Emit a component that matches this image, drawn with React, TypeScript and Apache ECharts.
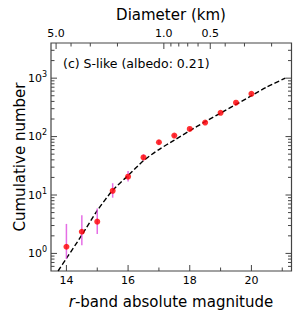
import React, { useEffect, useRef } from 'react';
import * as echarts from 'echarts';

// Observed cumulative counts (S-like, albedo 0.21)
const magnitudes = [14, 14.5, 15, 15.5, 16, 16.5, 17, 17.5, 18, 18.5, 19, 19.5, 20];
const cumulative = [1.3, 2.35, 3.5, 11.8, 20.6, 44, 80, 104, 135, 174, 255, 380, 540];
const errLow = [0.8, 1.38, 2.15, 9.0, 17, 39, 74, 97, 127, 165, 244, 366, 522];
const errHigh = [3.2, 4.5, 5.9, 15.9, 25.8, 50, 87, 111, 143, 183, 266, 394, 558];

// Model curve (dashed)
const modelMag = [13.73, 14, 14.5, 15, 15.5, 16, 16.5, 17, 17.5, 18, 18.5, 19, 19.5, 20, 20.5, 21.1];
const modelN = [0.5, 0.82, 2.06, 5.4, 12, 21.5, 38.7, 60, 87, 126, 180, 252, 355, 500, 705, 1000];

// Axes
const xMin = 13.5;
const xMax = 21.3;
const yMin = 0.5;
const yMax = 4000;
const xMajorTicks = [14, 16, 18, 20];
const xMajorLabels = ['14', '16', '18', '20'];
const xMinorTicks = [15, 17, 19, 21];
const yMajorTicks = [1, 10, 100, 1000];
const yMajorExponents = ['0', '1', '2', '3'];
const yMinorTicks = [0.6, 0.7, 0.8, 0.9, 2, 3, 4, 5, 6, 7, 8, 9, 20, 30, 40, 50, 60, 70, 80, 90, 200, 300, 400, 500, 600, 700, 800, 900, 2000, 3000];

// Top axis: diameter (km); magnitude of a 1 km body at this albedo
const magAtOneKm = 17.16;
const diamMajorTicks = [5.0, 1.0, 0.5];
const diamMajorLabels = ['5.0', '1.0', '0.5'];
const diamMinorTicks = [4, 3, 2, 0.9, 0.8, 0.7, 0.6, 0.4, 0.3, 0.2];
const diamToMag = (d: number) => magAtOneKm - 5 * Math.log10(d);

const FONT = 'DejaVu Sans';
const AXIS_COLOR = '#444';
const MAJOR_LEN = 6;
const MINOR_LEN = 3.5;

export default function App() {
  const ref = useRef<HTMLDivElement>(null);

  useEffect(() => {
    document.body.style.margin = '0';
    if (!ref.current) return;
    const chart = echarts.init(ref.current, undefined, { renderer: 'svg' });

    // tick data: [x, y, side, len]; side 0 bottom, 1 top, 2 left, 3 right
    const tickData: number[][] = [];
    xMajorTicks.forEach((v) => tickData.push([v, yMin, 0, MAJOR_LEN]));
    xMinorTicks.forEach((v) => tickData.push([v, yMin, 0, MINOR_LEN]));
    yMajorTicks.forEach((v) => {
      tickData.push([xMin, v, 2, MAJOR_LEN]);
      tickData.push([xMax, v, 3, MAJOR_LEN]);
    });
    yMinorTicks.forEach((v) => {
      tickData.push([xMin, v, 2, MINOR_LEN]);
      tickData.push([xMax, v, 3, MINOR_LEN]);
    });
    diamMajorTicks.forEach((d) => tickData.push([diamToMag(d), yMax, 1, MAJOR_LEN]));
    diamMinorTicks.forEach((d) => tickData.push([diamToMag(d), yMax, 1, MINOR_LEN]));

    const option: any = {
      animation: false,
      grid: { left: 51, top: 43, width: 240.5, height: 228, show: true, borderColor: AXIS_COLOR, borderWidth: 1.2, backgroundColor: 'transparent' },
      xAxis: {
        type: 'value', min: xMin, max: xMax,
        axisLine: { show: false }, axisTick: { show: false }, axisLabel: { show: false }, splitLine: { show: false },
      },
      yAxis: {
        type: 'log', logBase: 10, min: yMin, max: yMax,
        axisLine: { show: false }, axisTick: { show: false }, axisLabel: { show: false }, splitLine: { show: false }, minorTick: { show: false },
      },
      series: [
        {
          type: 'custom', name: 'ticks', data: tickData, silent: true, clip: false, z: 5,
          renderItem: (params: any, api: any) => {
            const p = api.coord([api.value(0), api.value(1)]);
            const side = api.value(2);
            const len = api.value(3);
            const dx = side === 2 ? len : side === 3 ? -len : 0;
            const dy = side === 0 ? -len : side === 1 ? len : 0;
            return { type: 'line', shape: { x1: p[0], y1: p[1], x2: p[0] + dx, y2: p[1] + dy }, style: { stroke: AXIS_COLOR, lineWidth: 1 } };
          },
        },
        {
          type: 'custom', name: 'xLabels', data: xMajorTicks.map((v) => [v, yMin]), silent: true, clip: false,
          renderItem: (params: any, api: any) => {
            const p = api.coord([api.value(0), api.value(1)]);
            return { type: 'text', x: p[0], y: p[1] + 3.5, style: { text: xMajorLabels[params.dataIndex], fontSize: 11, fontFamily: FONT, fill: '#000', align: 'center', verticalAlign: 'top' } };
          },
        },
        {
          type: 'custom', name: 'yLabels', data: yMajorTicks.map((v) => [xMin, v]), silent: true, clip: false,
          renderItem: (params: any, api: any) => {
            const p = api.coord([api.value(0), api.value(1)]);
            return {
              type: 'text', x: p[0] - 4, y: p[1],
              style: {
                text: '{a|10}{b|' + yMajorExponents[params.dataIndex] + '}',
                rich: {
                  a: { fontSize: 11, fontFamily: FONT, fill: '#000', lineHeight: 16 },
                  b: { fontSize: 8, fontFamily: FONT, fill: '#000', lineHeight: 8, verticalAlign: 'top' },
                },
                align: 'right', verticalAlign: 'middle',
              },
            };
          },
        },
        {
          type: 'custom', name: 'topLabels', data: diamMajorTicks.map((d) => [diamToMag(d), yMax]), silent: true, clip: false,
          renderItem: (params: any, api: any) => {
            const p = api.coord([api.value(0), api.value(1)]);
            return { type: 'text', x: p[0], y: p[1] - 4, style: { text: diamMajorLabels[params.dataIndex], fontSize: 11, fontFamily: FONT, fill: '#000', align: 'center', verticalAlign: 'bottom' } };
          },
        },
        {
          type: 'line', name: 'model', data: modelMag.map((m, i) => [m, modelN[i]]), showSymbol: false, symbol: 'none', smooth: 0.25,
          lineStyle: { color: '#000', width: 1.4, type: [5, 2.5] }, z: 2, clip: true,
        },
        {
          type: 'custom', name: 'errors', data: magnitudes.map((m, i) => [m, errLow[i], errHigh[i]]), silent: true, z: 3,
          renderItem: (params: any, api: any) => {
            const lo = api.coord([api.value(0), api.value(1)]);
            const hi = api.coord([api.value(0), api.value(2)]);
            return { type: 'line', shape: { x1: lo[0], y1: lo[1], x2: hi[0], y2: hi[1] }, style: { stroke: '#e055e0', lineWidth: 1.5, opacity: 0.85 } };
          },
        },
        {
          type: 'scatter', name: 'observed', data: magnitudes.map((m, i) => [m, cumulative[i]]), symbol: 'circle', symbolSize: 6,
          itemStyle: { color: '#ff0000' }, z: 4,
        },
      ],
      graphic: [
        { type: 'text', x: 171, y: 15, style: { text: 'Diameter (km)', fontSize: 15, fontFamily: FONT, fill: '#000', align: 'center', verticalAlign: 'middle' } },
        {
          type: 'text', x: 171, y: 302,
          style: {
            text: '{i|r}{n|-band absolute magnitude}',
            rich: { i: { fontSize: 15, fontFamily: FONT, fontStyle: 'italic', fill: '#000' }, n: { fontSize: 15, fontFamily: FONT, fill: '#000' } },
            align: 'center', verticalAlign: 'middle',
          },
        },
        { type: 'text', x: 20, y: 157, rotation: Math.PI / 2, style: { text: 'Cumulative number', fontSize: 15, fontFamily: FONT, fill: '#000', align: 'center', verticalAlign: 'middle' } },
        { type: 'text', x: 63, y: 63, style: { text: '(c) S-like (albedo: 0.21)', fontSize: 12.5, fontFamily: FONT, fill: '#000', align: 'left', verticalAlign: 'middle' } },
      ],
    };
    chart.setOption(option);
    return () => chart.dispose();
  }, []);

  return <div ref={ref} style={{ width: 300, height: 320 }} />;
}
